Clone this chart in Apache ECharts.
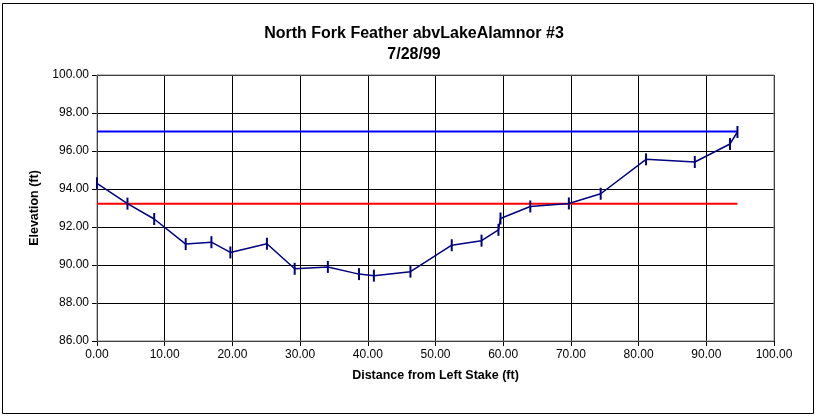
<!DOCTYPE html>
<html>
<head>
<meta charset="utf-8">
<script src="https://cdn.jsdelivr.net/npm/echarts@6/dist/echarts.min.js"></script>
<style>
html,body{margin:0;padding:0;background:#fff;}
#c{width:817px;height:417px;}
</style>
</head>
<body>
<div id="c"></div>
<script>
// Data
var distance = [0, 4.5, 8.45, 13.1, 16.9, 19.7, 25.1, 29.2, 34.1, 38.7, 40.9, 46.3, 52.4, 56.8, 59.3, 59.6, 64.0, 69.7, 74.4, 81.1, 88.3, 93.5, 94.6];
var elevation = [94.3, 93.23, 92.42, 91.1, 91.2, 90.66, 91.12, 89.8, 89.9, 89.52, 89.44, 89.65, 91.04, 91.28, 91.85, 92.45, 93.08, 93.24, 93.75, 95.56, 95.42, 96.37, 97.0];
var blueLineX = [0, 94.6];
var blueLineY = [97.03, 97.03];
var redLineX = [0, 94.6];
var redLineY = [93.23, 93.23];
var titleLines = ["North Fork Feather abvLakeAlamnor #3", "7/28/99"];
var xAxisName = "Distance from Left Stake (ft)";
var yAxisName = "Elevation (ft)";

function pairs(xs, ys) { return xs.map(function (x, i) { return [x, ys[i]]; }); }

var font = "'Liberation Sans', Arial, sans-serif";
var chart = echarts.init(document.getElementById('c'));
chart.setOption({
  backgroundColor: '#fff',
  animation: false,
  title: {
    text: titleLines.join('\n'),
    left: 409, top: 18, textAlign: 'center',
    textStyle: { fontFamily: font, fontWeight: 'bold', fontSize: 16, color: '#000', lineHeight: 21 }
  },
  grid: { left: 97, top: 75, right: 43, bottom: 76, show: false },
  graphic: [{
    type: 'rect', shape: { x: 2.5, y: 3.5, width: 811, height: 410 },
    style: { fill: 'none', stroke: '#000', lineWidth: 1 }, silent: true, z: -1
  }, {
    type: 'rect', shape: { x: 97, y: 75, width: 677, height: 266 },
    style: { fill: 'none', stroke: '#808080', lineWidth: 1 }, silent: true, z: 1
  }],
  xAxis: {
    type: 'value', min: 0, max: 100, interval: 10,
    name: xAxisName, nameLocation: 'middle', nameGap: 28,
    nameTextStyle: { fontFamily: font, fontWeight: 'bold', fontSize: 12.5, color: '#000' },
    axisLine: { onZero: false, lineStyle: { color: '#000', width: 1 } },
    axisTick: { show: true, inside: false, length: 5, lineStyle: { color: '#000' } },
    axisLabel: { fontFamily: font, fontSize: 12, color: '#000', margin: 8, formatter: function (v) { return v.toFixed(2); } },
    splitLine: { show: true, lineStyle: { color: '#000', width: 1 } }
  },
  yAxis: {
    type: 'value', min: 86, max: 100, interval: 2,
    name: yAxisName, nameLocation: 'middle', nameGap: 55, nameRotate: 90,
    nameTextStyle: { fontFamily: font, fontWeight: 'bold', fontSize: 12.5, color: '#000' },
    axisLine: { show: true, onZero: false, lineStyle: { color: '#000', width: 1 } },
    axisTick: { show: true, inside: false, length: 5, lineStyle: { color: '#000' } },
    axisLabel: { fontFamily: font, fontSize: 12, color: '#000', margin: 8, formatter: function (v) { return v.toFixed(2); } },
    splitLine: { show: true, lineStyle: { color: '#000', width: 1 } }
  },
  series: [{
    type: 'line', data: pairs(blueLineX, blueLineY), symbol: 'none',
    lineStyle: { color: '#0000FF', width: 2 }, z: 3
  }, {
    type: 'line', data: pairs(redLineX, redLineY), symbol: 'none',
    lineStyle: { color: '#FF0000', width: 2 }, z: 3
  }, {
    type: 'line', data: pairs(distance, elevation),
    symbol: 'rect', symbolSize: [2, 12],
    itemStyle: { color: '#000080' },
    lineStyle: { color: '#000080', width: 1.5 }, z: 4
  }]
});
</script>
</body>
</html>
